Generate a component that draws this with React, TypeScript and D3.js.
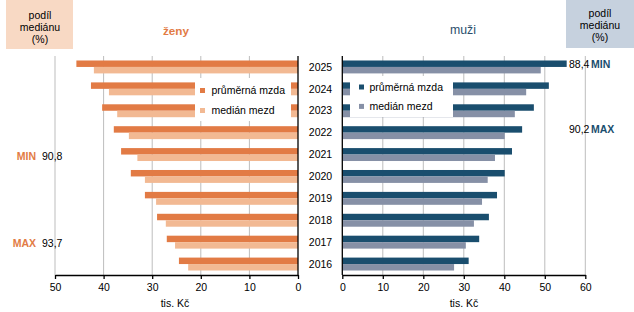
import React, { useRef, useEffect } from "react";
import { select, scaleLinear, scaleBand, axisBottom } from "d3";

// average vs median wage by year, thousands of CZK
const years = [2016, 2017, 2018, 2019, 2020, 2021, 2022, 2023, 2024, 2025];
const womenMean = [24.5, 27.0, 29.0, 31.5, 34.4, 36.4, 37.9, 40.3, 42.6, 45.6];
const womenMedian = [22.6, 25.3, 27.2, 29.2, 31.5, 33.05, 34.8, 37.2, 38.9, 42.0];
const menMean = [31.2, 33.8, 36.2, 38.2, 40.1, 41.9, 44.4, 47.3, 51.0, 55.4];
const menMedian = [27.6, 30.5, 32.5, 34.5, 35.9, 37.7, 40.1, 42.6, 45.4, 49.0];

const womenTicks = [0, 10, 20, 30, 40, 50];
const menTicks = [0, 10, 20, 30, 40, 50, 60];

// median as share of mean, extremes
const womenExtremes = [
  { label: "MIN", year: 2021, value: "90,8" },
  { label: "MAX", year: 2017, value: "93,7" },
];
const menExtremes = [
  { label: "MIN", year: 2025, value: "88,4" },
  { label: "MAX", year: 2022, value: "90,2" },
];

const legendLabels = ["průměrná mzda", "medián mezd"];

const FONT = '"Liberation Sans", Arial, sans-serif';
const FS = 10.5;
const ORANGE = "#E27B45";
const LIGHT_ORANGE = "#F2B993";
const NAVY = "#1A4E6E";
const GREY_BLUE = "#8690A6";
const GRID = "#BDBDBD";

const W = 634;
const H = 312;
const TOP = 56;
const BOTTOM = 275;

const App = () => {
  const svgRef = useRef<SVGSVGElement>(null);

  const yScale = scaleBand<number>()
    .domain([...years].reverse())
    .range([TOP, BOTTOM])
    .paddingInner(0.41)
    .paddingOuter(0.205);
  const xWomen = scaleLinear().domain([0, 50]).range([298, 55]);
  const xMen = scaleLinear().domain([0, 60]).range([342.3, 585.3]);
  const bh = yScale.bandwidth() / 2;
  const yc = (yr: number) => (yScale(yr) as number) + yScale.bandwidth() / 2;

  useEffect(() => {
    const svg = select(svgRef.current);
    const wAxis = axisBottom(xWomen)
      .tickValues(womenTicks)
      .tickSizeInner(4)
      .tickSizeOuter(0)
      .tickPadding(5);
    const mAxis = axisBottom(xMen)
      .tickValues(menTicks)
      .tickSizeInner(4)
      .tickSizeOuter(0)
      .tickPadding(5);
    svg.select(".x-axis-women").attr("transform", `translate(0,${BOTTOM})`).call(wAxis as any);
    svg.select(".x-axis-men").attr("transform", `translate(0,${BOTTOM})`).call(mAxis as any);
    svg
      .selectAll(".x-axis")
      .attr("font-size", FS)
      .attr("font-family", FONT);
    svg.selectAll(".x-axis path, .x-axis line").attr("stroke", "#000").attr("stroke-width", 1.3);
    svg.selectAll(".x-axis text").attr("fill", "#000");
  }, []);

  return (
    <svg
      ref={svgRef}
      width={W}
      height={H}
      style={{ position: "absolute", left: 0, top: 0, background: "#fff" }}
      fontFamily={FONT}
      fontSize={FS}
    >
      {/* gridlines */}
      {womenTicks.filter((t) => t > 0).map((t) => (
        <line key={"gw" + t} x1={xWomen(t)} x2={xWomen(t)} y1={TOP} y2={BOTTOM} stroke={GRID} />
      ))}
      {menTicks.filter((t) => t > 0).map((t) => (
        <line key={"gm" + t} x1={xMen(t)} x2={xMen(t)} y1={TOP} y2={BOTTOM} stroke={GRID} />
      ))}

      {/* women bars */}
      {years.map((yr, i) => (
        <g key={"w" + yr}>
          <rect
            x={xWomen(womenMean[i])}
            y={yScale(yr)}
            width={xWomen(0) - xWomen(womenMean[i])}
            height={bh}
            fill={ORANGE}
          />
          <rect
            x={xWomen(womenMedian[i])}
            y={(yScale(yr) as number) + bh}
            width={xWomen(0) - xWomen(womenMedian[i])}
            height={bh}
            fill={LIGHT_ORANGE}
          />
        </g>
      ))}

      {/* men bars */}
      {years.map((yr, i) => (
        <g key={"m" + yr}>
          <rect
            x={xMen(0)}
            y={yScale(yr)}
            width={xMen(menMean[i]) - xMen(0)}
            height={bh}
            fill={NAVY}
          />
          <rect
            x={xMen(0)}
            y={(yScale(yr) as number) + bh}
            width={xMen(menMedian[i]) - xMen(0)}
            height={bh}
            fill={GREY_BLUE}
          />
        </g>
      ))}

      {/* vertical axes */}
      <line x1={xWomen(0)} x2={xWomen(0)} y1={TOP} y2={BOTTOM} stroke="#000" strokeWidth={1.3} />
      <line x1={xMen(0)} x2={xMen(0)} y1={TOP} y2={BOTTOM} stroke="#000" strokeWidth={1.3} />
      <g className="x-axis x-axis-women" />
      <g className="x-axis x-axis-men" />

      {/* year labels */}
      {years.map((yr) => (
        <text key={"y" + yr} x={320.5} y={yc(yr)} dy="0.35em" textAnchor="middle">
          {yr}
        </text>
      ))}

      <text x={175} y={307}textAnchor="middle">tis. Kč</text>
      <text x={464} y={307} textAnchor="middle">tis. Kč</text>

      {/* titles */}
      <text x={176} y={35} textAnchor="middle" fontSize={11.7} fontWeight="bold" fill={ORANGE}>ženy</text>
      <text x={463} y={34} textAnchor="middle" fontSize={12.3} fill="#2A4E6C">muži</text>

      {/* header boxes */}
      <rect x={6} y={0} width={67} height={49} fill="#F8D9C4" />
      <text x={40} y={0} textAnchor="middle">
        <tspan x={40} y={18.5}>podíl</tspan>
        <tspan x={40} y={30.5}>mediánu</tspan>
        <tspan x={40} y={43}>(%)</tspan>
      </text>
      <rect x={566} y={0} width={68} height={48} fill="#C6D1DE" />
      <text x={600} y={0} textAnchor="middle">
        <tspan x={600} y={16.5}>podíl</tspan>
        <tspan x={600} y={29}>mediánu</tspan>
        <tspan x={600} y={41}>(%)</tspan>
      </text>

      {/* extremes of median share */}
      {womenExtremes.map((d) => (
        <g key={"we" + d.label}>
          <text x={36} y={yc(d.year) + 1.5} dy="0.35em" textAnchor="end" fontWeight="bold" fill={ORANGE}>
            {d.label}
          </text>
          <text x={42} y={yc(d.year) + 1.5} dy="0.35em">{d.value}</text>
        </g>
      ))}
      {menExtremes.map((d) => (
        <g key={"me" + d.label}>
          <text x={569} y={yc(d.year) - 3} dy="0.35em">{d.value}</text>
          <text x={591} y={yc(d.year) - 3} dy="0.35em" fontWeight="bold" fill={NAVY}>
            {d.label}
          </text>
        </g>
      ))}

      {/* legends */}
      <rect x={195} y={78} width={96} height={43} fill="#fff" />
      {legendLabels.map((l, i) => (
        <g key={"lw" + i}>
          <rect x={200} y={88 + i * 20} width={5} height={5} fill={i === 0 ? ORANGE : LIGHT_ORANGE} />
          <text x={211.5} y={90.7 + i * 20} dy="0.35em">{l}</text>
        </g>
      ))}
      <rect x={350} y={76} width={103} height={41} fill="#fff" />
      {legendLabels.map((l, i) => (
        <g key={"lm" + i}>
          <rect x={359} y={84.5 + i * 19.4} width={5} height={5} fill={i === 0 ? NAVY : GREY_BLUE} />
          <text x={369.5} y={87.3 + i * 19.4} dy="0.35em">{l}</text>
        </g>
      ))}
    </svg>
  );
};

export default App;
